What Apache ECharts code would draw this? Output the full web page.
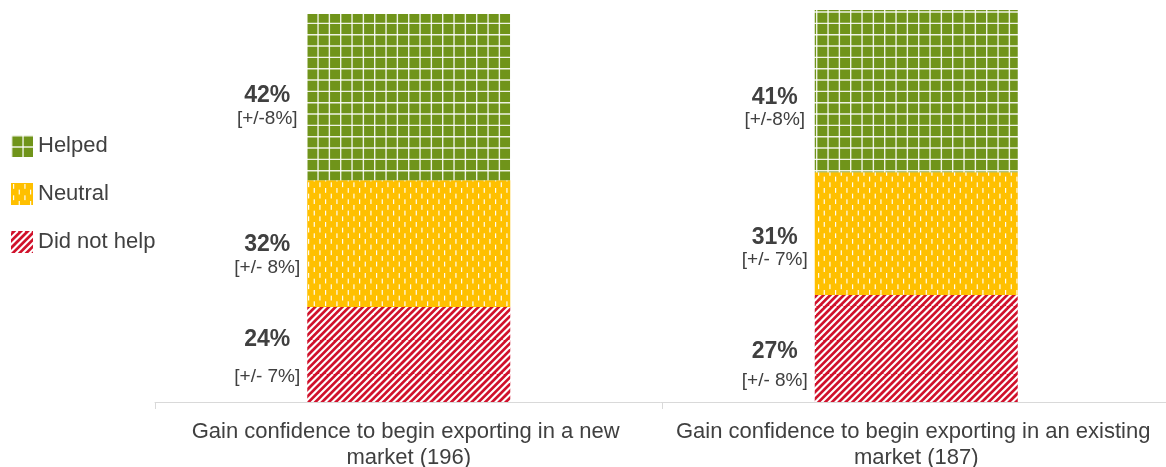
<!DOCTYPE html>
<html>
<head>
<meta charset="utf-8">
<script src="https://cdn.jsdelivr.net/npm/echarts@6/dist/echarts.min.js"></script>
<style>
  html, body { margin: 0; padding: 0; background: #ffffff; }
  #chart { width: 1166px; height: 467px; }
</style>
</head>
<body>
<div id="chart"></div>
<script>
// ---- data ----
const categories = [
  'Gain confidence to begin exporting in a new market (196)',
  'Gain confidence to begin exporting in an existing market (187)'
];
const legendOrder = ['Helped', 'Neutral', 'Did not help'];
const didNotHelp = [24, 27];
const neutral = [32, 31];
const helped = [42, 41];
const marginDidNotHelp = ['[+/- 7%]', '[+/- 8%]'];
const marginNeutral = ['[+/- 8%]', '[+/- 7%]'];
const marginHelped = ['[+/-8%]', '[+/-8%]'];

// ---- label layout (vertical nudge of the label block, gap between its two lines) ----
const labelLayout = {
  'Did not help': { shift: [10, 20], gap: [37, 29] },
  'Neutral':      { shift: [12, 14], gap: [23, 22] },
  'Helped':       { shift: [10, 17], gap: [23, 23] }
};

const FONT = '"Liberation Sans", Arial, sans-serif';
const TEXT = '#404040';

// ---- pattern fills ----
function tile(size) {
  const c = document.createElement('canvas');
  c.width = size; c.height = size;
  return c;
}
function gridFill() {
  const s = 34, c = tile(s), g = c.getContext('2d');
  g.fillStyle = '#70941A';
  g.fillRect(0, 0, s, s);
  g.strokeStyle = 'rgba(255,255,255,0.88)';
  g.lineWidth = 1.4;
  for (let i = 0; i < 3; i++) {
    const p = i * s / 3 + 0.7;
    g.beginPath(); g.moveTo(p, 0); g.lineTo(p, s); g.stroke();
    g.beginPath(); g.moveTo(0, p); g.lineTo(s, p); g.stroke();
  }
  return c;
}
function dashFill() {
  const s = 34, p = s / 3, c = tile(s), g = c.getContext('2d');
  g.fillStyle = '#FFC000';
  g.fillRect(0, 0, s, s);
  g.fillStyle = 'rgba(255,255,255,0.95)';
  for (let col = 0; col < 6; col++) {
    const x = col * p / 2 + 2;
    const y0 = (col % 2) * p / 2;
    for (let r = 0; r < 3; r++) {
      g.fillRect(x, y0 + r * p + 1, 1.2, 4.8);
    }
  }
  return c;
}
function stripeFill() {
  const s = 34, n = 5, c = tile(s), g = c.getContext('2d');
  g.fillStyle = '#D0112B';
  g.fillRect(0, 0, s, s);
  g.strokeStyle = '#ffffff';
  g.lineWidth = 2.1;
  for (let k = -n; k <= 2 * n; k++) {
    const x = k * s / n;
    g.beginPath(); g.moveTo(x, s); g.lineTo(x + s, 0); g.stroke();
  }
  return c;
}

function makeSeries(name, values, margins, fill) {
  const lay = labelLayout[name];
  return {
    name: name,
    type: 'bar',
    stack: 'total',
    barWidth: '40%',
    itemStyle: { color: { image: fill, repeat: 'repeat' } },
    emphasis: { disabled: true },
    data: values.map((v, i) => ({
      value: v,
      label: {
        show: true,
        position: [-40, '50%'],
        align: 'center',
        verticalAlign: 'middle',
        offset: [0, lay.shift[i]],
        formatter: '{v|' + v + '%}\n{m|' + margins[i] + '}',
        rich: {
          v: { fontFamily: FONT, fontSize: 23, fontWeight: 'bold', color: TEXT, lineHeight: 24, align: 'center' },
          m: { fontFamily: FONT, fontSize: 19, color: TEXT, lineHeight: 2 * (lay.gap[i] - 12), align: 'center' }
        }
      }
    }))
  };
}

const chart = echarts.init(document.getElementById('chart'), null, { renderer: 'canvas' });
chart.setOption({
  animation: false,
  backgroundColor: '#ffffff',
  legend: {
    orient: 'vertical',
    left: 11,
    top: 135,
    padding: 0,
    itemWidth: 22,
    itemHeight: 22,
    itemGap: 26,
    icon: 'rect',
    data: legendOrder,
    selectedMode: false,
    textStyle: { fontFamily: FONT, fontSize: 22, color: TEXT, lineHeight: 22 }
  },
  grid: { left: 155, top: 10, width: 1015, bottom: 65, outerBoundsMode: 'none', containLabel: false },
  xAxis: {
    type: 'category',
    data: categories,
    axisLine: { show: true, lineStyle: { color: '#D9D9D9', width: 1 } },
    axisTick: { show: true, length: 7, lineStyle: { color: '#D9D9D9' } },
    axisLabel: {
      interval: 0,
      margin: 17,
      width: 490,
      overflow: 'break',
      fontFamily: FONT,
      fontSize: 22,
      lineHeight: 26,
      color: TEXT
    }
  },
  yAxis: { type: 'value', min: 0, max: 99, show: false },
  series: [
    makeSeries('Did not help', didNotHelp, marginDidNotHelp, stripeFill()),
    makeSeries('Neutral', neutral, marginNeutral, dashFill()),
    makeSeries('Helped', helped, marginHelped, gridFill())
  ]
});
</script>
</body>
</html>
